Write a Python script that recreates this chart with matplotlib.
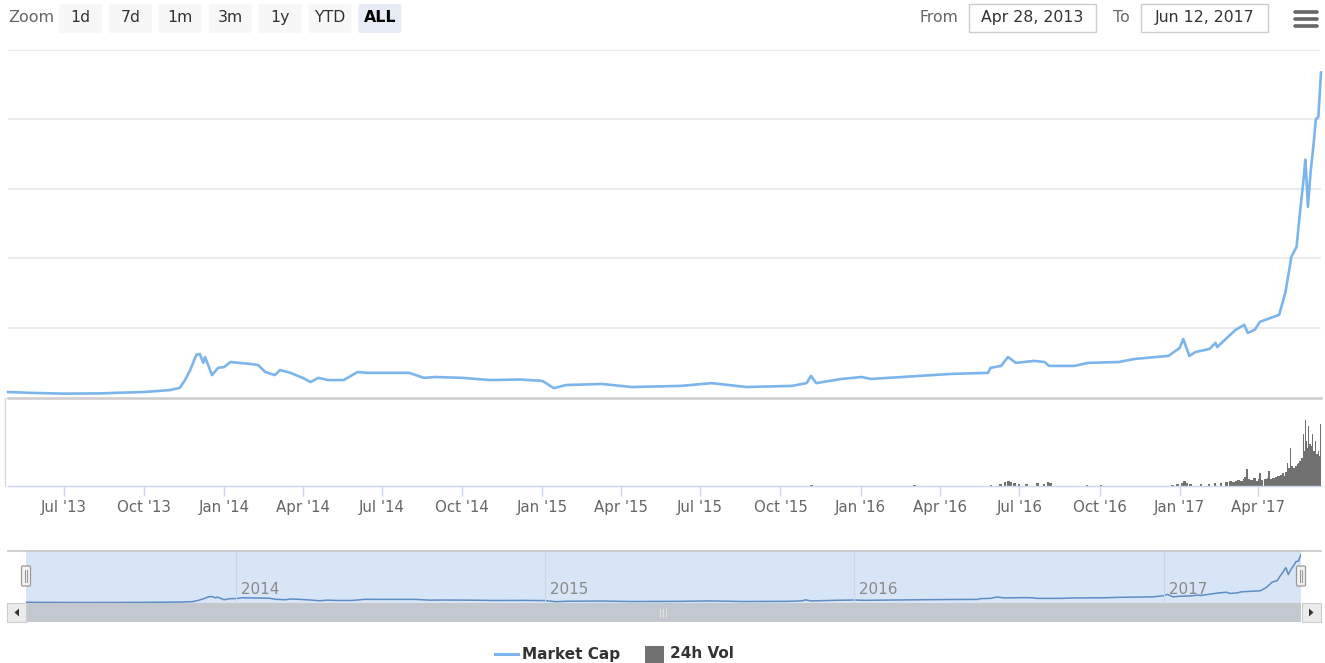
import numpy as np
import pandas as pd
import matplotlib
matplotlib.use("Agg")
import matplotlib.pyplot as plt
import matplotlib.dates as mdates
from matplotlib.patches import Rectangle, FancyBboxPatch, Polygon

plt.rcParams['font.family'] = ['DejaVu Sans']

# ---------------- data ----------------
mc_dates = ["2013-04-28","2013-05-23","2013-07-01","2013-08-11","2013-10-01","2013-10-31","2013-11-11",
            "2013-11-17","2013-11-23","2013-11-30","2013-12-04","2013-12-08","2013-12-10","2013-12-18",
            "2013-12-25","2014-01-01","2014-01-08","2014-01-31","2014-02-09","2014-02-17","2014-02-28",
            "2014-03-06","2014-03-18","2014-04-01","2014-04-10","2014-04-19","2014-04-30","2014-05-18",
            "2014-06-03","2014-06-13","2014-07-01","2014-08-01","2014-08-18","2014-08-31","2014-10-01",
            "2014-11-02","2014-12-06","2015-01-01","2015-01-14","2015-01-28","2015-03-10","2015-04-13",
            "2015-06-09","2015-07-14","2015-08-23","2015-10-14","2015-10-31","2015-11-05","2015-11-11",
            "2015-12-10","2016-01-02","2016-01-13","2016-02-17","2016-04-13","2016-05-26","2016-05-29",
            "2016-06-10","2016-06-18","2016-06-27","2016-07-18","2016-07-30","2016-08-04","2016-09-02",
            "2016-09-18","2016-10-23","2016-11-10","2016-12-19","2017-01-01","2017-01-05","2017-01-12",
            "2017-01-19","2017-02-04","2017-02-11","2017-02-13","2017-03-06","2017-03-16","2017-03-20",
            "2017-03-28","2017-04-03","2017-04-25","2017-05-02","2017-05-06","2017-05-09","2017-05-15",
            "2017-05-18","2017-05-23","2017-05-25","2017-05-26","2017-05-28","2017-05-31","2017-06-04",
            "2017-06-06","2017-06-09","2017-06-12"]
market_cap_b = [1.8, 1.5, 1.2, 1.3, 1.8, 2.5, 3.3,
                6.1, 9.7, 15.2, 15.5, 12.3, 14.4, 7.9,
                10.5, 10.8, 12.6, 11.9, 11.5, 9.0, 7.9,
                9.7, 8.7, 6.9, 5.4, 6.9, 6.1, 6.1,
                9.0, 8.7, 8.7, 8.7, 6.9, 7.2, 6.9,
                6.1, 6.3, 5.8, 3.2, 4.3, 4.7, 3.6,
                4.0, 5.0, 3.6, 4.0, 5.0, 7.6, 5.0,
                6.5, 7.2, 6.5, 7.2, 8.3, 8.7, 10.5,
                11.2, 14.4, 12.3, 13.0, 12.6, 11.2, 11.2,
                12.3, 12.6, 13.7, 14.8, 17.7, 20.9, 14.8,
                16.2, 17.3, 19.5, 18.0, 24.2, 26.0, 23.1,
                24.2, 27.1, 29.6, 37.5, 44.7, 50.5, 54.1,
                63.9, 78.3, 85.5, 80.8, 68.5, 80.8, 92.7,
                99.9, 101.0, 116.9]

vol_dates = ["2015-11-04","2016-03-01","2016-05-28","2016-06-08","2016-06-13","2016-06-17","2016-06-20",
             "2016-06-24","2016-06-29","2016-07-08","2016-07-20","2016-07-28","2016-08-02","2016-08-04",
             "2016-09-15","2016-10-01","2016-12-22","2016-12-28","2017-01-02","2017-01-05","2017-01-08",
             "2017-01-12","2017-01-24","2017-02-02","2017-02-09","2017-02-16","2017-02-22","2017-02-27",
             "2017-03-02","2017-03-05","2017-03-08","2017-03-11","2017-03-14","2017-03-16","2017-03-18",
             "2017-03-20","2017-03-23","2017-03-26","2017-03-29","2017-04-01","2017-04-02","2017-04-04",
             "2017-04-08","2017-04-11","2017-04-12","2017-04-14","2017-04-17","2017-04-20","2017-04-23",
             "2017-04-26","2017-04-28","2017-04-30","2017-05-02","2017-05-04","2017-05-05","2017-05-07",
             "2017-05-09","2017-05-11","2017-05-13","2017-05-15","2017-05-17","2017-05-18","2017-05-20",
             "2017-05-22","2017-05-23","2017-05-24","2017-05-25","2017-05-26","2017-05-27","2017-05-28",
             "2017-05-29","2017-05-31","2017-06-01","2017-06-02","2017-06-03","2017-06-05","2017-06-06",
             "2017-06-08","2017-06-09","2017-06-10","2017-06-11","2017-06-12"]
volume_b = [0.05, 0.03, 0.05, 0.10, 0.18, 0.23, 0.18,
            0.14, 0.09, 0.09, 0.12, 0.09, 0.18, 0.14,
            0.05, 0.03, 0.05, 0.09, 0.14, 0.23, 0.14,
            0.09, 0.07, 0.09, 0.12, 0.14, 0.18, 0.23,
            0.18, 0.23, 0.27, 0.23, 0.32, 0.41, 0.77,
            0.32, 0.27, 0.36, 0.23, 0.32, 0.59, 0.27,
            0.32, 0.36, 0.68, 0.32, 0.36, 0.41, 0.46,
            0.50, 0.59, 0.46, 0.64, 1.05, 0.82, 1.73,
            0.91, 0.82, 0.91, 1.00, 1.05, 1.14, 1.28,
            2.37, 1.82, 1.60, 3.00, 2.05, 1.73, 2.73,
            1.91, 2.05, 1.82, 2.37, 1.60, 2.05, 1.46,
            1.46, 1.60, 1.37, 2.82, 2.50]

tick_dates = ["2013-07-01","2013-10-01","2014-01-01","2014-04-01","2014-07-01","2014-10-01",
              "2015-01-01","2015-04-01","2015-07-01","2015-10-01","2016-01-01","2016-04-01",
              "2016-07-01","2016-10-01","2017-01-01","2017-04-01"]
tick_labels = ["Jul '13","Oct '13","Jan '14","Apr '14","Jul '14","Oct '14","Jan '15","Apr '15",
               "Jul '15","Oct '15","Jan '16","Apr '16","Jul '16","Oct '16","Jan '17","Apr '17"]
nav_year_dates = ["2014-01-01","2015-01-01","2016-01-01","2017-01-01"]
nav_year_labels = ["2014","2015","2016","2017"]
range_buttons = ["1d","7d","1m","3m","1y","YTD","ALL"]
date_from = "Apr 28, 2013"
date_to = "Jun 12, 2017"
series_names = ["Market Cap", "24h Vol"]

# ---------------- styling ----------------
W, H = 1325, 663
LINE = '#7cb5ec'
VOLC = '#717171'
GRID = '#e6e6e6'
TXT = '#666666'

mc_x = mdates.date2num(pd.to_datetime(mc_dates))
vol_x = mdates.date2num(pd.to_datetime(vol_dates))
t_x = mdates.date2num(pd.to_datetime(tick_dates))
ny_x = mdates.date2num(pd.to_datetime(nav_year_dates))
x0, x1 = mc_x[0], mc_x[-1]

fig = plt.figure(figsize=(W/100, H/100), dpi=100)
fig.patch.set_facecolor('white')

def box(l, t, r, b):
    return [l/W, 1-b/H, (r-l)/W, (b-t)/H]

# overlay for UI pieces
ui = fig.add_axes([0, 0, 1, 1], zorder=0)
ui.set_xlim(0, W); ui.set_ylim(H, 0); ui.axis('off')

# main price axes
ax = fig.add_axes(box(8, 50, 1321, 397), zorder=2)
ax.patch.set_alpha(0)
ax.plot(mc_x, market_cap_b, color=LINE, lw=1.9, solid_joinstyle='round', clip_on=False)
ax.set_xlim(x0, x1)
ax.set_ylim(0, 125)
ax.set_yticks([25, 50, 75, 100, 125])
ax.grid(axis='y', color=GRID, lw=1.1)
ax.set_axisbelow(True)
for s in ax.spines.values():
    s.set_visible(False)
ax.tick_params(left=False, bottom=False, labelleft=False, labelbottom=False)
ui.plot([8, 1321], [397.5, 397.5], color='#cccccc', lw=1.8)

# volume axes
av = fig.add_axes(box(8, 398, 1321, 486), zorder=2)
av.patch.set_alpha(0)
widths = np.minimum(np.diff(np.append(vol_x, vol_x[-1] + 1)), 3.0)
av.bar(vol_x, volume_b, width=widths, align='edge', color=VOLC, lw=0)
av.set_xlim(x0, x1)
av.set_ylim(0, 4)
for s in ['top', 'right', 'left']:
    av.spines[s].set_visible(False)
av.spines['bottom'].set_color('#ccd6eb')
av.spines['bottom'].set_linewidth(1)
av.set_yticks([])
av.set_xticks(t_x)
av.set_xticklabels(tick_labels, fontsize=10.8, color=TXT)
av.tick_params(axis='x', length=7, width=1, color='#ccd6eb', pad=3)
ui.plot([5, 5], [398, 486], color='#d8d8d8', lw=1)

# navigator
ui.add_patch(Rectangle((26, 550), 1275, 53, facecolor='#d7e5f6', edgecolor='none'))
ui.plot([8, 1321], [550.5, 550.5], color='#c8c8c8', lw=1.2)
an = fig.add_axes(box(26, 550, 1301, 603), zorder=2)
an.patch.set_alpha(0)
an.plot(mc_x, market_cap_b, color='#5f8cc4', lw=1.1)
an.set_xlim(x0, x1)
an.set_ylim(0, 128)
an.axis('off')
for xv, lab in zip(ny_x, nav_year_labels):
    an.axvline(xv, color='#c9d6e6', lw=0.8)
    an.text(xv, 0.11, ' ' + lab, transform=an.get_xaxis_transform(), fontsize=11,
            color='#8a8a8a', ha='left', va='bottom')

# navigator handles
for hx in (26, 1301):
    ui.add_patch(FancyBboxPatch((hx - 4.5, 566), 9, 20, boxstyle='round,pad=0,rounding_size=1.5',
                                facecolor='#f2f2f2', edgecolor='#999999', lw=0.9, zorder=5))
    ui.plot([hx - 1.3, hx - 1.3], [570, 582], color='#999999', lw=0.8, zorder=6)
    ui.plot([hx + 1.3, hx + 1.3], [570, 582], color='#999999', lw=0.8, zorder=6)

# scrollbar
ui.add_patch(Rectangle((26, 603), 1275, 19, facecolor='#c3c8ce', edgecolor='none'))
for bx in (7, 1302):
    ui.add_patch(Rectangle((bx, 603), 19, 19, facecolor='#ebebeb', edgecolor='#cccccc', lw=0.8))
ui.add_patch(Polygon([[19, 608.5], [19, 616.5], [14.5, 612.5]], closed=True, facecolor='#333333', lw=0))
ui.add_patch(Polygon([[1309, 608.5], [1309, 616.5], [1313.5, 612.5]], closed=True, facecolor='#333333', lw=0))
for gx in (659.5, 662.5, 665.5):
    ui.plot([gx, gx], [608.5, 616.5], color='#e0e0e0', lw=0.8)

# legend
ui.plot([495, 518], [654, 654], color=LINE, lw=2.2)
ui.text(522, 654, series_names[0], fontsize=11, fontweight='bold', color='#333333', va='center', ha='left')
ui.add_patch(Rectangle((645, 645.5), 19, 17, facecolor=VOLC, edgecolor='none'))
ui.text(670, 654, series_names[1], fontsize=11, fontweight='bold', color='#333333', va='center', ha='left')

# range selector
ui.text(8, 18, "Zoom", fontsize=11.5, color=TXT, va='center', ha='left')
for i, lab in enumerate(range_buttons):
    bl = 59 + i * 49.9
    sel = lab == "ALL"
    ui.add_patch(FancyBboxPatch((bl, 4), 43, 29, boxstyle='round,pad=0,rounding_size=2',
                                facecolor='#e6ebf5' if sel else '#f7f7f7', edgecolor='none'))
    ui.text(bl + 21.5, 17.5, lab, fontsize=11.3, color='#000000' if sel else '#333333',
            fontweight='bold' if sel else 'normal', va='center', ha='center')

# date inputs
ui.text(958, 17.5, "From", fontsize=11.3, color=TXT, va='center', ha='right')
ui.add_patch(Rectangle((969, 4), 127, 28, facecolor='white', edgecolor='#cccccc', lw=1))
ui.text(1032.5, 17.5, date_from, fontsize=11.3, color='#333333', va='center', ha='center')
ui.text(1130, 17.5, "To", fontsize=11.3, color=TXT, va='center', ha='right')
ui.add_patch(Rectangle((1141, 4), 127, 28, facecolor='white', edgecolor='#cccccc', lw=1))
ui.text(1204.5, 17.5, date_to, fontsize=11.3, color='#333333', va='center', ha='center')

# menu (hamburger)
for yy in (11.5, 18.5, 25.5):
    ui.plot([1295, 1317], [yy, yy], color='#666666', lw=2.6, solid_capstyle='round')

fig.savefig("out.png", dpi=100, facecolor='white')
